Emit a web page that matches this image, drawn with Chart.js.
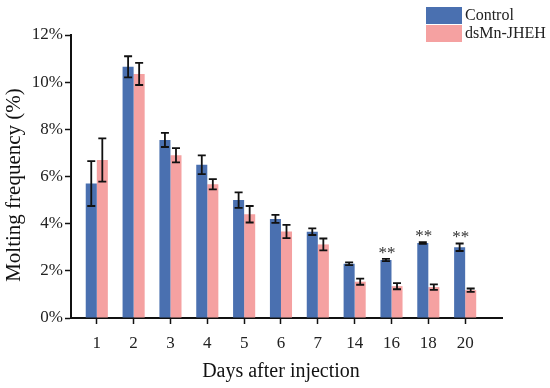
<!DOCTYPE html>
<html lang="en">
	<head>
		<meta charset="utf-8"/>
		<title>Molting frequency</title>
		<script src="https://cdn.jsdelivr.net/npm/chart.js@4.4.1/dist/chart.umd.min.js"></script>
		<style>
			body {
				margin: 0;
				background-color: white;
			}
			.container {
				width: 550px;
				height: 388px;
			}
		</style>
	</head>

	<body>
		<div class="container">
			<canvas id="myChart"></canvas>
		</div>

		<script>
			// data (percent)
			const days = ['1', '2', '3', '4', '5', '6', '7', '14', '16', '18', '20'];
			const controlMean = [5.7, 10.65, 7.55, 6.5, 5.0, 4.2, 3.66, 2.3, 2.46, 3.18, 3.0];
			const controlErr = [0.95, 0.45, 0.3, 0.4, 0.33, 0.17, 0.14, 0.06, 0.05, 0.04, 0.16];
			const jhehMean = [6.7, 10.35, 6.9, 5.67, 4.4, 3.67, 3.12, 1.54, 1.35, 1.31, 1.18];
			const jhehErr = [0.92, 0.47, 0.3, 0.22, 0.35, 0.28, 0.25, 0.13, 0.13, 0.12, 0.07];
			const stars = ['', '', '', '', '', '', '', '', '**', '**', '**'];
			const yTicks = [0, 2, 4, 6, 8, 10, 12];

			const blue = '#4a70b0';
			const pink = '#f5a1a1';
			const serif = "'Liberation Serif', 'DejaVu Serif', serif";

			const errorBars = {
				id: 'errorBars',
				afterDatasetsDraw(chart) {
					const ctx = chart.ctx;
					const y = chart.scales.y;
					ctx.save();
					ctx.strokeStyle = '#111';
					ctx.lineWidth = 1.8;
					chart.data.datasets.forEach((ds, d) => {
						const meta = chart.getDatasetMeta(d);
						meta.data.forEach((bar, i) => {
							const v = ds.data[i].y, e = ds.errors[i];
							const top = y.getPixelForValue(v + e);
							const bot = y.getPixelForValue(v - e);
							ctx.beginPath();
							ctx.moveTo(bar.x, top); ctx.lineTo(bar.x, bot);
							ctx.moveTo(bar.x - 4, top); ctx.lineTo(bar.x + 4, top);
							ctx.moveTo(bar.x - 4, bot); ctx.lineTo(bar.x + 4, bot);
							ctx.stroke();
						});
					});
					// significance marks over control bars
					const meta0 = chart.getDatasetMeta(0);
					ctx.fillStyle = '#333';
					ctx.font = '17px ' + serif;
					ctx.textAlign = 'center';
					ctx.textBaseline = 'alphabetic';
					stars.forEach((s, i) => {
						if (!s) return;
						const top = y.getPixelForValue(controlMean[i] + controlErr[i]);
						ctx.fillText(s, meta0.data[i].x + 1, top - 1);
					});
					ctx.restore();
				}
			};

			// legend boxes and axis titles, placed as in the figure
			const labels = {
				id: 'labels',
				afterDraw(chart) {
					const ctx = chart.ctx;
					ctx.save();
					ctx.font = '16px ' + serif;
					ctx.textBaseline = 'middle';
					ctx.textAlign = 'left';
					chart.data.datasets.forEach((ds, d) => {
						const top = 7 + d * 18;
						ctx.fillStyle = ds.backgroundColor;
						ctx.fillRect(426, top, 36, 17);
						ctx.fillStyle = '#222';
						ctx.fillText(ds.label, 465, top + 9);
					});
					ctx.fillStyle = '#111';
					ctx.textAlign = 'center';
					ctx.font = '20px ' + serif;
					ctx.fillText('Days after injection', 281, 372);
					ctx.translate(14, 185);
					ctx.rotate(-Math.PI / 2);
					ctx.font = '21px ' + serif;
					ctx.fillText('Molting frequency (%)', 0, 0);
					ctx.restore();
				}
			};

			const ch1 = document.getElementById('myChart').getContext('2d');
			const chart1 = new Chart(ch1, {
				type: 'bar',
				data: {
					datasets: [
						{
							label: 'Control',
							data: controlMean.map((v, i) => ({x: i, y: v})),
							errors: controlErr,
							backgroundColor: blue
						},
						{
							label: 'dsMn-JHEH',
							data: jhehMean.map((v, i) => ({x: i, y: v})),
							errors: jhehErr,
							backgroundColor: pink
						}
					]
				},
				options: {
					responsive: true,
					maintainAspectRatio: false,
					animation: false,
					categoryPercentage: 0.6,
					barPercentage: 1.0,
					layout: {padding: {top: 35, right: 48, left: 0, bottom: 0}},
					plugins: {
						legend: {display: false},
						tooltip: {enabled: false}
					},
					scales: {
						x: {
							type: 'linear',
							min: -0.7,
							max: 11,
							offset: false,
							afterBuildTicks: (s) => { s.ticks = days.map((_, i) => ({value: i})); },
							afterFit: (s) => { s.height = 70; },
							grid: {display: true, offset: false, drawOnChartArea: false, tickLength: 6, tickWidth: 1.5, tickColor: '#111'},
							border: {color: '#111', width: 2},
							ticks: {
								callback: (v) => days[v],
								color: '#222',
								font: {family: serif, size: 17},
								padding: 9,
								autoSkip: false,
								maxRotation: 0
							}
						},
						y: {
							min: 0,
							max: 12,
							afterBuildTicks: (s) => { s.ticks = yTicks.map((v) => ({value: v})); },
							afterFit: (s) => { s.width = 71; },
							grid: {display: true, offset: false, drawOnChartArea: false, tickLength: 6, tickWidth: 1.5, tickColor: '#111'},
							border: {color: '#111', width: 2},
							ticks: {
								callback: (v) => v + '%',
								color: '#222',
								font: {family: serif, size: 17},
								padding: 2
							}
						}
					}
				},
				plugins: [errorBars, labels]
			});
		</script>
	</body>
</html>
